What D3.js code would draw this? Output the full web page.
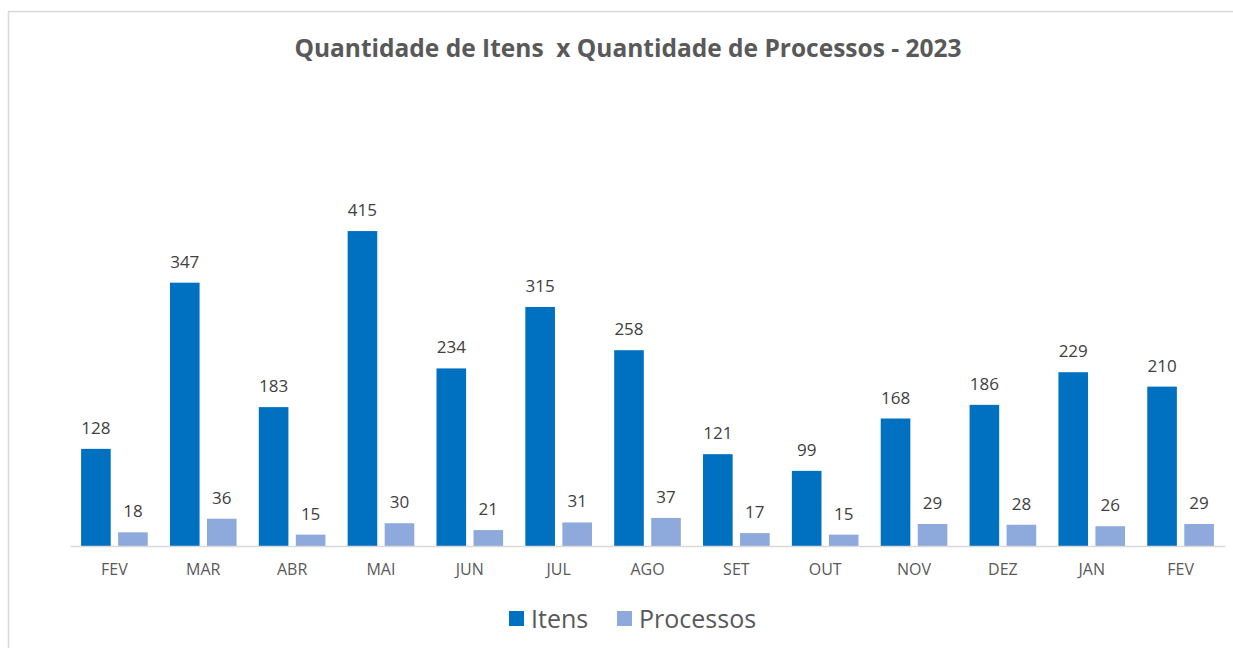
<!DOCTYPE html>
<html>
<head>
<meta charset="utf-8">
<script src="https://cdn.jsdelivr.net/npm/d3@7"></script>
<style>
  body { margin: 0; background: #fff; }
  svg { display: block; font-family: "Open Sans", "Noto Sans", sans-serif; }
</style>
</head>
<body>
<div id="chart"></div>
<script>
const width = 1233, height = 648

// chart values
const months = ["FEV", "MAR", "ABR", "MAI", "JUN", "JUL", "AGO", "SET", "OUT", "NOV", "DEZ", "JAN", "FEV"]
const itens = [128, 347, 183, 415, 234, 315, 258, 121, 99, 168, 186, 229, 210]
const processos = [18, 36, 15, 30, 21, 31, 37, 17, 15, 29, 28, 26, 29]
const seriesNames = ["Itens", "Processos"]
const colors = ["#0070C0", "#8EA9DB"]

let svg = d3.select("#chart")
            .append("svg")
            .attr("width", width)
            .attr("height", height)

// outer frame
svg.append("rect")
   .attr("x", 8.5).attr("y", 11.5)
   .attr("width", width + 20).attr("height", height + 20)
   .attr("fill", "none")
   .attr("stroke", "#D9D9D9")
   .attr("stroke-width", 1.5)

svg.append("text")
   .attr("x", 628).attr("y", 57)
   .attr("text-anchor", "middle")
   .attr("font-size", 24.5)
   .attr("font-weight", "bold")
   .attr("fill", "#595959")
   .attr("xml:space", "preserve")
   .text("Quantidade de Itens  x Quantidade de Processos - 2023")

let x0 = d3.scaleBand()
           .domain(d3.range(months.length))
           .range([70, 1225])
           .paddingInner(0.25)
           .paddingOuter(0.125)

let x1 = d3.scaleBand()
           .domain(seriesNames)
           .range([0, x0.bandwidth()])
           .paddingInner(0.2)

let y = d3.scaleLinear()
          .domain([0, 450])
          .range([546, 204.5])

let rows = months.map(function(m, i) {
  return {i: i, values: [itens[i], processos[i]]}
})

let groups = svg.selectAll("g.month")
                .data(rows)
                .join("g")
                .attr("class", "month")
                .attr("transform", function(d) { return "translate(" + x0(d.i) + ",0)" })

groups.selectAll("rect")
      .data(function(d) { return d.values.map(function(v, k) { return {name: seriesNames[k], v: v, k: k} }) })
      .join("rect")
      .attr("x", function(d) { return x1(d.name) })
      .attr("y", function(d) { return y(d.v) })
      .attr("width", x1.bandwidth())
      .attr("height", function(d) { return y(0) - y(d.v) })
      .attr("fill", function(d) { return colors[d.k] })

groups.selectAll("text")
      .data(function(d) { return d.values.map(function(v, k) { return {name: seriesNames[k], v: v} }) })
      .join("text")
      .attr("x", function(d) { return x1(d.name) + x1.bandwidth() / 2 })
      .attr("y", function(d) { return y(d.v) - 15 })
      .attr("text-anchor", "middle")
      .attr("font-size", 17)
      .attr("fill", "#404040")
      .text(function(d) { return d.v })

// x axis
let xAxis = svg.append("g")
               .attr("transform", "translate(0," + y(0) + ")")
               .call(d3.axisBottom(x0).tickSize(0).tickPadding(18)
                       .tickFormat(function(i) { return months[i] }))
xAxis.select(".domain").attr("stroke", "#D9D9D9").attr("stroke-width", 1.5)
xAxis.selectAll("text")
     .attr("font-size", 16)
     .attr("fill", "#595959")
     .attr("font-family", "'Open Sans', sans-serif")

// legend
let legend = svg.append("g")
let legendX = [509, 617]
seriesNames.forEach(function(name, k) {
  legend.append("rect")
        .attr("x", legendX[k]).attr("y", 611)
        .attr("width", 15).attr("height", 15)
        .attr("fill", colors[k])
  legend.append("text")
        .attr("x", legendX[k] + 22).attr("y", 628)
        .attr("font-size", 25)
        .attr("fill", "#595959")
        .text(name)
})
</script>
</body>
</html>
